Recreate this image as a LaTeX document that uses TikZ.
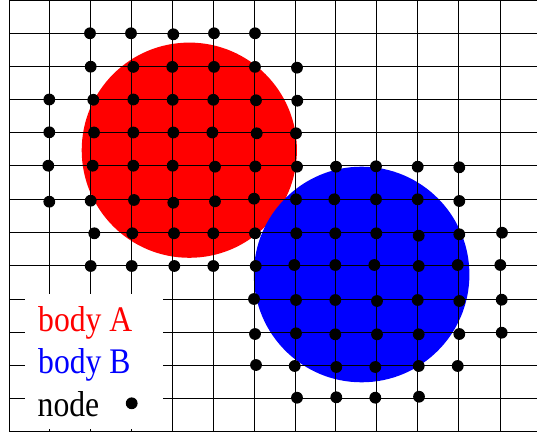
\documentclass[tikz,border=0pt]{standalone}
\usepackage{fontspec}
\setmainfont{Liberation Serif}
\begin{document}
\begin{tikzpicture}[x=1pt,y=-1pt,
  gridline/.style={black,line width=1.2pt},
  particle/.style={fill=black},
  legendtext/.style={anchor=base west,inner sep=0pt,font=\fontsize{36}{40}\selectfont}]
\useasboundingbox (0,0) rectangle (537,435);
% bodies
\fill[red] (189.3,150.2) circle[radius=107.6];
\fill[blue] (361.6,274.5) circle[radius=107.8];
% grid
\foreach \gx in {9.5,49.5,90.5,131.5,172.5,213.5,254.5,295.5,335.5,376.5,417.5,458.5,500.5} {
  \draw[gridline] (\gx,0.5) -- (\gx,431.5);
}
\foreach \gy in {0.5,33.5,66.5,99.5,132.5,165.5,199.5,232.5,265.5,299.5,332.5,365.5,398.5,431.5} {
  \draw[gridline] (9.5,\gy) -- (540,\gy);
}
% particles
\foreach \p in {
  (90,33.3),(131,33.3),(173.3,34.3),(214,33.3),(255,33.3),
  (90.7,66.7),(133.3,66.9),(172.3,66.9),(214,66.9),(255,66.9),(297,67.7),
  (49.3,99.5),(93.3,99.8),(133.3,99.5),(172.7,99.8),(213.3,99.8),(256,100.3),(297.3,100.7),
  (49.3,132.3),(94,132.5),(133.3,132.5),(173.3,132.5),(212.3,132.5),(256.7,133.3),(296,133.3),
  (48.3,165.7),(92.7,165.7),(133.3,165.7),(172.7,165.7),(215,166.7),(255.3,166.5),(297,166.7),(336,166.7),(376,166.3),(417.7,166.7),(459.3,167.3),
  (49.3,201.7),(90.7,200.7),(134,200),(173.3,202.7),(215,201.3),(254,198.7),(296,199.3),(334.3,199.3),(376,199.3),(417.7,199.3),(459.3,201),
  (94.3,233.3),(132.3,233.3),(174,233.3),(213.3,233.3),(255,233.3),(296.3,233.3),(335.3,233.3),(376.3,233.3),(418.7,235.7),(459.3,234.3),(502,232.7),
  (90.7,266),(131.7,266),(174.3,266),(213.3,266),(255.7,266),(294.3,265),(335.3,265),(374.3,265),(418.7,266),(457.7,265),(500.3,265),
  (254,299),(296,300),(335.3,300),(377,301),(417.7,300),(459.3,301),(501.7,299.7),
  (255,334),(296,333.3),(335.3,334.3),(377,334.3),(418.7,334.3),(459.3,334),(501.7,332.7),
  (256,365),(294.7,366),(336.3,367),(375.3,367),(418.7,366),(457.7,366),
  (297,397.7),(336.3,397.3),(375.3,397.7),(419,396.7)
} {
  \fill[particle] \p circle[radius=5.9];
}
% legend
\fill[white] (25,294) rectangle (162.5,428.5);
\node[legendtext,text=red] (legA) at (38,331.7) {\scalebox{0.88}[1]{body A}};
\node[legendtext,text=blue] (legB) at (38,373.5) {\scalebox{0.88}[1]{body B}};
\node[legendtext,text=black] (legN) at (37.5,416.7) {\scalebox{0.88}[1]{node}};
\fill[particle] (131.7,403.3) circle[radius=5.9];
\end{tikzpicture}
\end{document}
